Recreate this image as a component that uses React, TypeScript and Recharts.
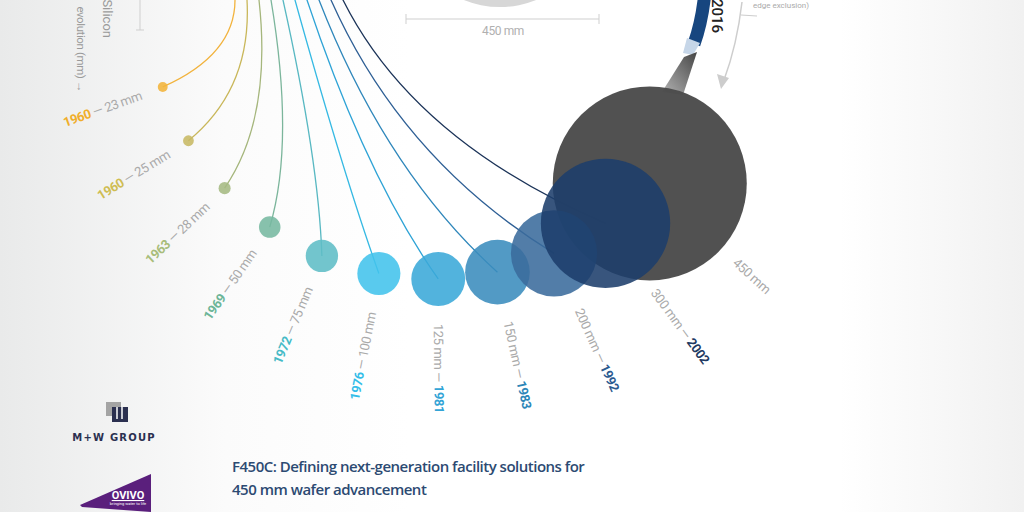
import { RadarChart, Radar, PolarAngleAxis, PolarRadiusAxis, Customized } from "recharts";

const WAFER_MM = [23, 25, 28, 50, 75, 100, 125, 150, 200, 300, 450];
const WAFER_YEAR = ["1960", "1960", "1963", "1969", "1972", "1976", "1981", "1983", "1992", "2002", ""];
const WAFER_COLOR = ["#f3b43a", "#c7b863", "#a5ba82", "#76b8a0", "#5fbdc6", "#42c3ec", "#3aa8d8", "#3a8cbd", "#3a6b9c", "#1d3e6b", "#4b4b4b"];
const YEAR_COLOR = ["#f0ae2a", "#cfbd52", "#a8bd7a", "#6cb597", "#45bac6", "#34bde8", "#33a4d6", "#2c86b8", "#2b5a90", "#1f3a62", "#999"];
const LINE_COLOR = ["#f2b33d", "#c9b75a", "#a5b67c", "#7bb59b", "#58b8c2", "#35b9e3", "#2ea3d6", "#2f87bb", "#2e5f95", "#1b3358"];

const wafers = WAFER_MM.map((mm, i) => ({ name: `${mm} mm`, mm, year: WAFER_YEAR[i], ring: 1 }));

// fan layout (page pixels)
const CX = 435;
const CY = -10;
const RING_R = 289;
const STEP = 11.84;
const START = 199.6 - STEP;
const END = START + STEP * wafers.length;
const R_PER_MM = 97 / 450; // bubble radius per mm of diameter
const ANCHOR_X = 235;
const ANCHOR_STEP = 12;
const LAST = wafers.length - 1;

const font = "Roboto, 'Open Sans', sans-serif";

const renderConnector = (p: any) => {
  const i = p.index;
  if (i >= LAST) return <g key={`c${i}`} />;
  const ax = ANCHOR_X + i * ANCHOR_STEP;
  const s = (0.5 * i) / (LAST - 1);
  const qy = 0.63 * p.cy;
  const qx = ax + s * qy;
  const d = `M ${ax - s * 40} -40 L ${ax} 0 Q ${qx} ${qy} ${p.cx} ${p.cy}`;
  return <path key={`c${i}`} d={d} stroke={LINE_COLOR[i]} strokeWidth={1.3} fill="none" />;
};

const waferLabel = (i: number, cx: number, cy: number, r: number) => {
  const dx = cx - CX;
  const dy = cy - CY;
  const dist = Math.sqrt(dx * dx + dy * dy);
  const ux = dx / dist;
  const uy = dy / dist;
  const gap = dist + r + 18;
  const lx = CX + ux * gap;
  const ly = CY + uy * gap;
  const deg = (Math.atan2(dy, dx) * 180) / Math.PI;
  const mm = `${WAFER_MM[i]} mm`;
  const yearEl = (
    <tspan fontWeight={700} fill={YEAR_COLOR[i]}>
      {WAFER_YEAR[i]}
    </tspan>
  );
  if (i <= 5) {
    return (
      <text x={lx} y={ly} transform={`rotate(${deg + 180} ${lx} ${ly})`} textAnchor="end" dominantBaseline="central" fontFamily={font} fontSize={13} fill="#aaa" letterSpacing={-0.4}>
        {yearEl}
        <tspan> — {mm}</tspan>
      </text>
    );
  }
  return (
    <text x={lx} y={ly} transform={`rotate(${deg} ${lx} ${ly})`} textAnchor="start" dominantBaseline="central" fontFamily={font} fontSize={13} fill="#aaa" letterSpacing={-0.4}>
      <tspan>{mm}</tspan>
      {WAFER_YEAR[i] ? <tspan> — </tspan> : null}
      {WAFER_YEAR[i] ? yearEl : null}
    </text>
  );
};

const makeWafer = (onlyLast: boolean) => (p: any) => {
  const i = p.index;
  if ((i === LAST) !== onlyLast) return <g key={`w${i}`} />;
  const r = WAFER_MM[i] * R_PER_MM;
  return (
    <g key={`w${i}`}>
      <circle cx={p.cx} cy={p.cy} r={r} fill={WAFER_COLOR[i]} fillOpacity={onlyLast ? 0.97 : 0.88} />
      {waferLabel(i, p.cx, p.cy, r)}
    </g>
  );
};

const Decor = () => (
  <g>
    <defs>
      <linearGradient id="band" x1="1" y1="0" x2="0" y2="1">
        <stop offset="0%" stopColor="#454545" />
        <stop offset="100%" stopColor="#b5b5b5" />
      </linearGradient>
    </defs>
    {/* 450 mm wafer at top */}
    <circle cx={500} cy={-90} r={450 * R_PER_MM} fill="#d7d7d7" />
    <line x1={406} y1={19} x2={599} y2={19} stroke="#cfcfcf" strokeWidth={1} />
    <line x1={406} y1={14} x2={406} y2={24} stroke="#cfcfcf" strokeWidth={1} />
    <line x1={599} y1={14} x2={599} y2={24} stroke="#cfcfcf" strokeWidth={1} />
    <text x={503} y={35} textAnchor="middle" fontFamily={font} fontSize={12} fill="#b0b0b0" letterSpacing={-0.4}>450 mm</text>
    {/* timeline ring */}
    <path d="M 705 -8 Q 702 22 694 44" stroke="#17467f" strokeWidth={13} fill="none" />
    <polygon points="687,38 700,43 693,55 683,53" fill="#c6d6e8" />
    <polygon points="684,57 697,52 683,95 662,92" fill="url(#band)" />
    <text x={717} y={16} transform="rotate(90 717 16)" textAnchor="middle" dominantBaseline="central" fontFamily={font} fontSize={15} fill="#222" fontWeight={500}>2016</text>
    <path d="M 742 2 Q 737 45 724 80" stroke="#cdcdcd" strokeWidth={1.5} fill="none" />
    <polygon points="717,74 729,78 721,89" fill="#cdcdcd" />
    <line x1={741} y1={15} x2={757} y2={16} stroke="#cdcdcd" strokeWidth={1} />
    <text x={753} y={8} fontFamily={font} fontSize={8} fill="#aaa">edge exclusion)</text>
    {/* axis title */}
    <line x1={140} y1={-5} x2={140} y2={30} stroke="#cfcfcf" strokeWidth={1} />
    <line x1={136} y1={30} x2={144} y2={30} stroke="#cfcfcf" strokeWidth={1} />
    <text x={103} y={38} transform="rotate(90 103 38)" textAnchor="end" fontFamily={font} fontSize={13} fill="#9a9a9a">Silicon</text>
    <text x={77} y={92} transform="rotate(90 77 92)" textAnchor="end" fontFamily={font} fontSize={11.5} fill="#9a9a9a" letterSpacing={-0.4}>evolution (mm) →</text>
    {/* logos */}
    <rect x={106} y={402} width={15} height={14} fill="#a4a4a4" />
    <rect x={112} y={407} width={16} height={15} fill="#2b3050" />
    <line x1={117} y1={407} x2={117} y2={419} stroke="#fff" strokeWidth={1.5} />
    <line x1={122} y1={407} x2={122} y2={419} stroke="#fff" strokeWidth={1.5} />
    <text x={114} y={441} textAnchor="middle" fontFamily="'DejaVu Sans', sans-serif" fontSize={10} fontWeight={600} letterSpacing={1.2} fill="#2b3050">M+W GROUP</text>
    <polygon points="80,505 151,474 151,512 82,507" fill="#5a1f7c" />
    <text x={128} y={499} textAnchor="middle" fontFamily={font} fontSize={11} fontWeight={700} fill="#fff" textDecoration="underline">OVIVO</text>
    <text x={128} y={505} textAnchor="middle" fontFamily={font} fontSize={4} fill="#fff">bringing water to life</text>
    {/* title */}
    <text x={232} y={472} fontFamily="'Open Sans', sans-serif" fontSize={15} fontWeight={600} fill="#2c4a72" letterSpacing={-0.5}>F450C: Defining next-generation facility solutions for</text>
    <text x={232} y={495} fontFamily="'Open Sans', sans-serif" fontSize={15} fontWeight={600} fill="#2c4a72" letterSpacing={-0.5}>450 mm wafer advancement</text>
  </g>
);

export default function App() {
  return (
    <div
      style={{
        position: "absolute",
        left: 0,
        top: 0,
        width: 1024,
        height: 512,
        overflow: "hidden",
        background: "linear-gradient(90deg, #e9eaea 0%, #fbfbfb 22%, #ffffff 40%, #ffffff 82%, #f1f1f1 100%)",
      }}
    >
      <RadarChart
        width={1024}
        height={512}
        data={wafers}
        cx={CX}
        cy={CY}
        outerRadius={RING_R}
        startAngle={START}
        endAngle={END}
        margin={{ top: 0, right: 0, bottom: 0, left: 0 }}
      >
        <PolarAngleAxis dataKey="name" tick={false} axisLine={false} tickLine={false} />
        <PolarRadiusAxis domain={[0, 1]} tick={false} axisLine={false} tickLine={false} />
        <Customized component={Decor} />
        <Radar dataKey="ring" fill="none" stroke="none" dot={renderConnector} isAnimationActive={false} />
        <Radar dataKey="ring" fill="none" stroke="none" dot={makeWafer(true)} isAnimationActive={false} />
        <Radar dataKey="ring" fill="none" stroke="none" dot={makeWafer(false)} isAnimationActive={false} />
      </RadarChart>
    </div>
  );
}
